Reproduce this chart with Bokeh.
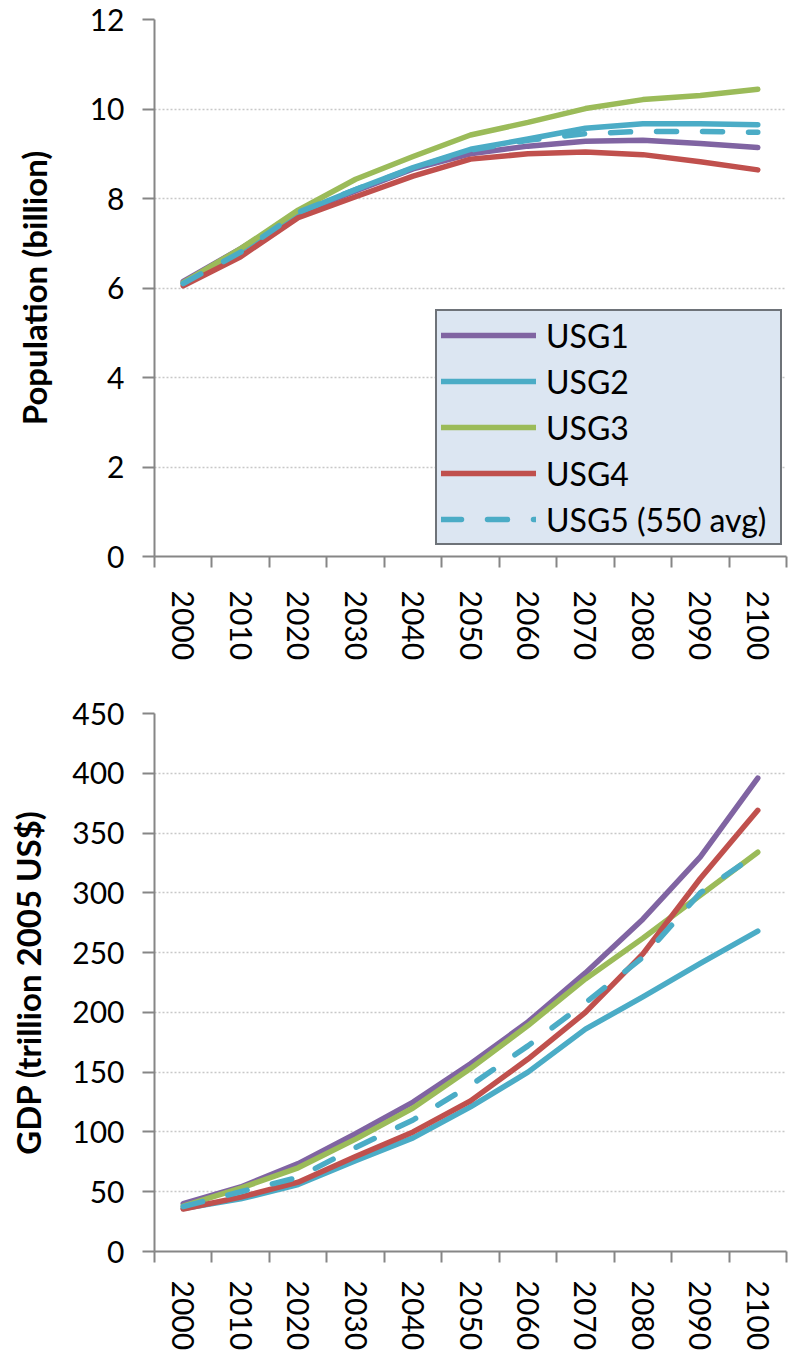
from bokeh.plotting import figure
from bokeh.models import Range1d, FixedTicker, Legend, LegendItem
from bokeh.layouts import column
from bokeh.embed import file_html
from bokeh.resources import INLINE

# ---------------- data ----------------
years = [2000, 2010, 2020, 2030, 2040, 2050, 2060, 2070, 2080, 2090, 2100]
year_labels = ["2000", "2010", "2020", "2030", "2040", "2050", "2060", "2070", "2080", "2090", "2100"]
category_edges = [1995, 2005, 2015, 2025, 2035, 2045, 2055, 2065, 2075, 2085, 2095, 2105]

series_names = ["USG1", "USG2", "USG3", "USG4", "USG5 (550 avg)"]
series_colors = ["#8064A2", "#4BACC6", "#9BBB59", "#C0504D", "#4BACC6"]
series_dashes = ["solid", "solid", "solid", "solid", "20 26"]

pop_usg1 = [6.15, 6.88, 7.66, 8.17, 8.66, 9.00, 9.17, 9.28, 9.30, 9.23, 9.14]
pop_usg2 = [6.10, 6.84, 7.68, 8.20, 8.69, 9.10, 9.33, 9.57, 9.67, 9.67, 9.65]
pop_usg3 = [6.12, 6.88, 7.74, 8.43, 8.94, 9.42, 9.70, 10.01, 10.21, 10.30, 10.44]
pop_usg4 = [6.05, 6.70, 7.57, 8.04, 8.50, 8.88, 9.00, 9.04, 8.98, 8.82, 8.64]
pop_usg5 = [6.10, 6.80, 7.69, 8.20, 8.68, 9.08, 9.30, 9.45, 9.50, 9.50, 9.48]

gdp_usg1 = [40, 54, 73.5, 98.5, 125, 157, 192, 233, 278, 330, 396]
gdp_usg2 = [36, 44, 56, 76, 95, 121, 150, 186, 213, 241, 268]
gdp_usg3 = [38, 53, 70, 94, 120, 153, 189, 228, 262, 298, 334]
gdp_usg4 = [35.5, 45.5, 58, 79.5, 100, 126, 161, 200, 249, 312, 369]
gdp_usg5 = [37.5, 50, 62, 87, 110, 139, 172, 208, 246, 300, 333]

pop_ticks = [0, 2, 4, 6, 8, 10, 12]
gdp_ticks = [0, 50, 100, 150, 200, 250, 300, 350, 400, 450]

FONT = "Lato"
AXIS_COLOR = "#868686"
TICK_SIZE = "30px"


def make_panel(series, ticks, ytitle, height, borders, title_standoff, xlabel_standoff):
    left, right, top, bottom = borders
    p = figure(width=801, height=height,
               x_range=Range1d(category_edges[0], category_edges[-1]),
               y_range=Range1d(ticks[0], ticks[-1]),
               output_backend="svg", toolbar_location=None,
               min_border_left=left, min_border_right=right,
               min_border_top=top, min_border_bottom=bottom)
    p.outline_line_color = None
    p.background_fill_color = "white"
    p.border_fill_color = "white"

    # x axis: labels at category centres, tick marks at category edges
    xt = FixedTicker(ticks=years, minor_ticks=category_edges)
    p.xaxis.ticker = xt
    p.xaxis.major_label_overrides = {y: lab for y, lab in zip(years, year_labels)}
    p.xaxis.major_tick_out = 0
    p.xaxis.major_tick_in = 0
    p.xaxis.minor_tick_out = 11
    p.xaxis.minor_tick_in = 0
    p.xaxis.minor_tick_line_color = AXIS_COLOR
    p.xaxis.minor_tick_line_width = 2
    p.xaxis.major_label_orientation = "vertical"
    p.xaxis.major_label_standoff = xlabel_standoff
    p.xaxis.axis_line_color = AXIS_COLOR
    p.xaxis.axis_line_width = 2

    yt = FixedTicker(ticks=ticks, minor_ticks=[])
    p.yaxis.ticker = yt
    p.yaxis.major_tick_out = 12
    p.yaxis.major_tick_in = 0
    p.yaxis.minor_tick_out = 0
    p.yaxis.minor_tick_in = 0
    p.yaxis.major_tick_line_color = AXIS_COLOR
    p.yaxis.major_tick_line_width = 2
    p.yaxis.axis_line_color = AXIS_COLOR
    p.yaxis.axis_line_width = 2
    p.yaxis.major_label_standoff = 18
    p.yaxis.axis_label = ytitle
    p.yaxis.axis_label_text_font = FONT
    p.yaxis.axis_label_text_font_style = "bold"
    p.yaxis.axis_label_text_font_size = "33px"
    p.yaxis.axis_label_text_color = "black"
    p.yaxis.axis_label_standoff = title_standoff

    for ax in (p.xaxis, p.yaxis):
        ax.major_label_text_font = FONT
        ax.major_label_text_font_size = TICK_SIZE
        ax.major_label_text_color = "black"

    p.xgrid.visible = False
    p.ygrid.ticker = yt
    p.ygrid.grid_line_color = "#C8C8C8"
    p.ygrid.grid_line_width = 1.5
    p.ygrid.grid_line_dash = "2 2"

    renderers = []
    for vals, col, dash in zip(series, series_colors, series_dashes):
        r = p.line(years, vals, line_color=col, line_width=5.5,
                   line_dash=dash, line_cap="round", line_join="round")
        renderers.append(r)
    return p, renderers


p1, rs = make_panel([pop_usg1, pop_usg2, pop_usg3, pop_usg4, pop_usg5],
                    pop_ticks, "Population (billion)", 690, (150, 1, 19, 134), 33, 23)

legend = Legend(items=[LegendItem(label=n, renderers=[r]) for n, r in zip(series_names, rs)],
                location=(281, 11), margin=0, padding=4, spacing=6,
                glyph_width=95, glyph_height=40, label_height=40, label_width=230,
                label_standoff=10,
                label_text_font=FONT, label_text_font_size="32px", label_text_color="black",
                border_line_color="black", border_line_width=2,
                background_fill_color="#DCE6F2", background_fill_alpha=1.0)
p1.add_layout(legend)

p2, _ = make_panel([gdp_usg1, gdp_usg2, gdp_usg3, gdp_usg4, gdp_usg5],
                   gdp_ticks, "GDP (trillion 2005 US$)", 663, (154, 15, 23, 100), 21, 18)

layout = column(p1, p2)
open("out.html", "w").write(file_html(layout, INLINE))
